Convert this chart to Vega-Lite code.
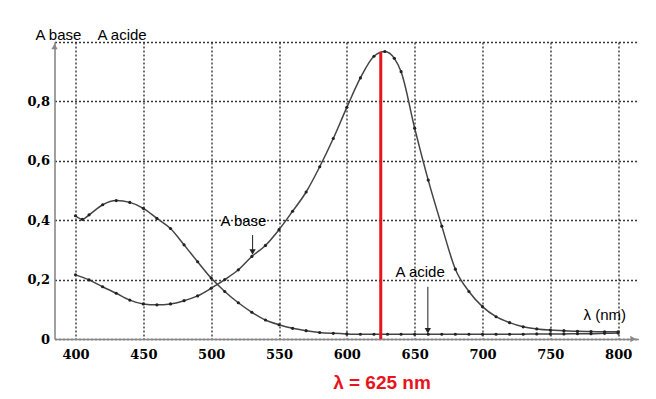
{
  "$schema": "https://vega.github.io/schema/vega-lite/v6.json",
  "width": 584,
  "height": 297,
  "autosize": {"type": "none"},
  "padding": {"left": 54.5, "top": 42, "right": 17.5, "bottom": 60},
  "background": "white",
  "config": {"view": {"stroke": null}},
  "datasets": {
    "curves": [
      {"serie": "base", "nm": 400, "A": 0.216}, {"serie": "base", "nm": 410, "A": 0.199}, {"serie": "base", "nm": 420, "A": 0.176},
      {"serie": "base", "nm": 430, "A": 0.154}, {"serie": "base", "nm": 440, "A": 0.131}, {"serie": "base", "nm": 450, "A": 0.118},
      {"serie": "base", "nm": 460, "A": 0.115}, {"serie": "base", "nm": 470, "A": 0.118}, {"serie": "base", "nm": 480, "A": 0.129},
      {"serie": "base", "nm": 490, "A": 0.145}, {"serie": "base", "nm": 500, "A": 0.171}, {"serie": "base", "nm": 510, "A": 0.2},
      {"serie": "base", "nm": 520, "A": 0.233}, {"serie": "base", "nm": 530, "A": 0.278}, {"serie": "base", "nm": 540, "A": 0.315},
      {"serie": "base", "nm": 550, "A": 0.368}, {"serie": "base", "nm": 560, "A": 0.43}, {"serie": "base", "nm": 570, "A": 0.495},
      {"serie": "base", "nm": 580, "A": 0.58}, {"serie": "base", "nm": 590, "A": 0.675}, {"serie": "base", "nm": 600, "A": 0.78},
      {"serie": "base", "nm": 610, "A": 0.879}, {"serie": "base", "nm": 620, "A": 0.952}, {"serie": "base", "nm": 628, "A": 0.968},
      {"serie": "base", "nm": 635, "A": 0.945}, {"serie": "base", "nm": 640, "A": 0.9}, {"serie": "base", "nm": 650, "A": 0.71},
      {"serie": "base", "nm": 660, "A": 0.535}, {"serie": "base", "nm": 670, "A": 0.38}, {"serie": "base", "nm": 680, "A": 0.235},
      {"serie": "base", "nm": 690, "A": 0.16}, {"serie": "base", "nm": 700, "A": 0.109}, {"serie": "base", "nm": 710, "A": 0.075},
      {"serie": "base", "nm": 720, "A": 0.055}, {"serie": "base", "nm": 730, "A": 0.041}, {"serie": "base", "nm": 740, "A": 0.034},
      {"serie": "base", "nm": 750, "A": 0.03}, {"serie": "base", "nm": 760, "A": 0.028}, {"serie": "base", "nm": 770, "A": 0.026},
      {"serie": "base", "nm": 780, "A": 0.025}, {"serie": "base", "nm": 790, "A": 0.024}, {"serie": "base", "nm": 800, "A": 0.024},
      {"serie": "acide", "nm": 400, "A": 0.415}, {"serie": "acide", "nm": 405, "A": 0.403}, {"serie": "acide", "nm": 410, "A": 0.418},
      {"serie": "acide", "nm": 420, "A": 0.452}, {"serie": "acide", "nm": 430, "A": 0.466}, {"serie": "acide", "nm": 440, "A": 0.46},
      {"serie": "acide", "nm": 450, "A": 0.44}, {"serie": "acide", "nm": 460, "A": 0.406}, {"serie": "acide", "nm": 470, "A": 0.372},
      {"serie": "acide", "nm": 480, "A": 0.317}, {"serie": "acide", "nm": 490, "A": 0.26}, {"serie": "acide", "nm": 500, "A": 0.205},
      {"serie": "acide", "nm": 510, "A": 0.16}, {"serie": "acide", "nm": 520, "A": 0.122}, {"serie": "acide", "nm": 530, "A": 0.09},
      {"serie": "acide", "nm": 540, "A": 0.064}, {"serie": "acide", "nm": 550, "A": 0.048}, {"serie": "acide", "nm": 560, "A": 0.036},
      {"serie": "acide", "nm": 570, "A": 0.028}, {"serie": "acide", "nm": 580, "A": 0.022}, {"serie": "acide", "nm": 590, "A": 0.019},
      {"serie": "acide", "nm": 600, "A": 0.017}, {"serie": "acide", "nm": 610, "A": 0.016}, {"serie": "acide", "nm": 620, "A": 0.016},
      {"serie": "acide", "nm": 630, "A": 0.016}, {"serie": "acide", "nm": 640, "A": 0.016}, {"serie": "acide", "nm": 650, "A": 0.016},
      {"serie": "acide", "nm": 660, "A": 0.016}, {"serie": "acide", "nm": 670, "A": 0.016}, {"serie": "acide", "nm": 680, "A": 0.016},
      {"serie": "acide", "nm": 690, "A": 0.016}, {"serie": "acide", "nm": 700, "A": 0.016}, {"serie": "acide", "nm": 710, "A": 0.016},
      {"serie": "acide", "nm": 720, "A": 0.016}, {"serie": "acide", "nm": 730, "A": 0.016}, {"serie": "acide", "nm": 740, "A": 0.017},
      {"serie": "acide", "nm": 750, "A": 0.017}, {"serie": "acide", "nm": 760, "A": 0.017}, {"serie": "acide", "nm": 770, "A": 0.018},
      {"serie": "acide", "nm": 780, "A": 0.018}, {"serie": "acide", "nm": 790, "A": 0.019}, {"serie": "acide", "nm": 800, "A": 0.02}
    ],
    "peak": [{"nm": 625, "A": 0.967, "A2": 0}],
    "arrows": [
      {"nm": 530.5, "A": 0.35, "A2": 0.29},
      {"nm": 659.7, "A": 0.176, "A2": 0.03}
    ],
    "heads": [
      {"nm": 530.5, "A": 0.293, "dir": "down"},
      {"nm": 659.7, "A": 0.028, "dir": "down"},
      {"nm": 811, "A": 0, "dir": "right"},
      {"nm": 384.5, "A": 0.985, "dir": "up"}
    ],
    "labels": [
      {"nm": 370.5, "A": 1.025, "label": "A base"},
      {"nm": 416.2, "A": 1.025, "label": "A acide"},
      {"nm": 506.9, "A": 0.397, "label": "A base"},
      {"nm": 635.9, "A": 0.226, "label": "A acide"},
      {"nm": 774.5, "A": 0.081, "label": "λ (nm)"}
    ],
    "answer": [{"nm": 625.9, "A": -0.148, "label": "λ = 625 nm"}]
  },
  "encoding": {
    "x": {
      "field": "nm", "type": "quantitative",
      "scale": {"domain": [384.5, 815], "nice": false, "zero": false},
      "axis": {
        "values": [400, 450, 500, 550, 600, 650, 700, 750, 800],
        "title": null, "ticks": false, "grid": true,
        "gridColor": "#222", "gridDash": [2, 2], "gridWidth": 1.4, "gridOpacity": 0.9,
        "domainColor": "#888", "domainWidth": 1.6,
        "labelFont": "DejaVu Serif", "labelFontWeight": "bold", "labelFontSize": 13,
        "labelColor": "#000", "labelPadding": 9
      }
    },
    "y": {
      "field": "A", "type": "quantitative",
      "scale": {"domain": [0, 1], "nice": false},
      "axis": {
        "values": [0, 0.2, 0.4, 0.6, 0.8, 1],
        "labelExpr": "datum.value == 1 ? '' : (datum.value == 0 ? '0' : replace(format(datum.value, '.1f'), '.', ','))",
        "title": null, "ticks": false, "grid": true,
        "gridColor": "#222", "gridDash": [2, 2], "gridWidth": 1.4, "gridOpacity": 0.9,
        "domainColor": "#888", "domainWidth": 1.6,
        "labelFont": "DejaVu Serif", "labelFontWeight": "bold", "labelFontSize": 13,
        "labelColor": "#000", "labelPadding": 5
      }
    }
  },
  "layer": [
    {
      "data": {"name": "curves"},
      "mark": {"type": "line", "color": "#444", "strokeWidth": 1.5, "interpolate": "monotone"},
      "encoding": {"detail": {"field": "serie"}}
    },
    {
      "data": {"name": "curves"},
      "mark": {"type": "point", "filled": true, "color": "#222", "size": 10, "opacity": 1}
    },
    {
      "data": {"name": "peak"},
      "mark": {"type": "rule", "color": "#e8141c", "strokeWidth": 3},
      "encoding": {"y2": {"field": "A2"}}
    },
    {
      "data": {"name": "arrows"},
      "mark": {"type": "rule", "color": "#333", "strokeWidth": 1.1},
      "encoding": {"y2": {"field": "A2"}}
    },
    {
      "data": {"name": "heads"},
      "mark": {"type": "point", "filled": true, "opacity": 1, "size": 40},
      "encoding": {
        "shape": {"field": "dir", "type": "nominal", "scale": {"domain": ["down", "right", "up"], "range": ["triangle-down", "triangle-right", "triangle-up"]}, "legend": null},
        "color": {"field": "dir", "type": "nominal", "scale": {"domain": ["down", "right", "up"], "range": ["#222", "#888", "#888"]}, "legend": null}
      }
    },
    {
      "data": {"name": "labels"},
      "mark": {"type": "text", "align": "left", "baseline": "middle", "font": "Liberation Sans", "fontSize": 15, "color": "#000"},
      "encoding": {"text": {"field": "label"}}
    },
    {
      "data": {"name": "answer"},
      "mark": {"type": "text", "align": "center", "baseline": "middle", "font": "Liberation Sans", "fontSize": 19, "fontWeight": "bold", "color": "#e8141c"},
      "encoding": {"text": {"field": "label"}}
    }
  ]
}
